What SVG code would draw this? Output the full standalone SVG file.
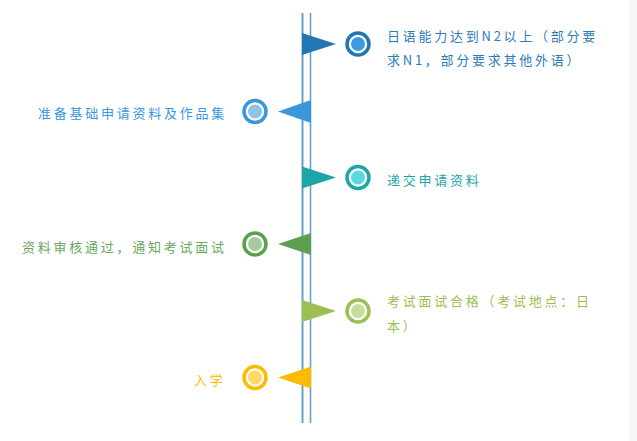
<svg xmlns="http://www.w3.org/2000/svg" width="637" height="441" viewBox="0 0 637 441">
<style>
.t{font-family:"Noto Sans CJK SC","Noto Sans",sans-serif;font-size:13px;letter-spacing:2.75px}
.ring{stroke-width:3.5;fill:none}
.axis{stroke:#6a9dc9;fill:none}
</style>
<rect width="637" height="441" fill="#ffffff"/>
<rect x="629" y="0" width="8" height="441" fill="#f6f8fa"/>
<g id="connectors">
<line class="axis" x1="302.5" y1="13" x2="302.5" y2="423" stroke-width="2"/>
<line class="axis" x1="310.5" y1="13" x2="310.5" y2="423" stroke-width="1.6"/>
</g>
<g id="step1">
<polygon points="302,33 336,44 302,55" fill="#2176b5"/>
<circle cx="358" cy="44" r="11" class="ring" stroke="#2176b5"/>
<circle cx="358" cy="44" r="7" fill="#3a9be0"/>
<text class="t" fill="#2e7bb8" x="387" y="41">日语能力达到N2以上（部分要</text>
<text class="t" fill="#2e7bb8" x="387" y="65">求N1，部分要求其他外语）</text>
</g>
<g id="step2">
<polygon points="311,100 278,111.5 311,123" fill="#3a97dc"/>
<circle cx="255" cy="111.5" r="11" class="ring" stroke="#3a97dc"/>
<circle cx="255" cy="111.5" r="7" fill="#8ec4ea"/>
<text class="t" fill="#3a97dc" x="38" y="118">准备基础申请资料及作品集</text>
</g>
<g id="step3">
<polygon points="302,166.5 336,177.5 302,188.5" fill="#1fa5a8"/>
<circle cx="358" cy="177.5" r="11" class="ring" stroke="#1fa5a8"/>
<circle cx="358" cy="177.5" r="7" fill="#5ad8e0"/>
<text class="t" fill="#1fa5a8" x="387" y="185">递交申请资料</text>
</g>
<g id="step4">
<polygon points="311,233 278,244 311,255" fill="#5c9f50"/>
<circle cx="255" cy="244" r="11" class="ring" stroke="#5c9f50"/>
<circle cx="255" cy="244" r="7" fill="#a4cc9b"/>
<text class="t" fill="#6aa860" x="22" y="252">资料审核通过，通知考试面试</text>
</g>
<g id="step5">
<polygon points="302,300 336,311 302,322" fill="#9bbf52"/>
<circle cx="358" cy="311" r="11" class="ring" stroke="#9bbf52"/>
<circle cx="358" cy="311" r="7" fill="#c7dd9c"/>
<text class="t" fill="#9bbf52" x="387" y="306">考试面试合格（考试地点：日</text>
<text class="t" fill="#9bbf52" x="387" y="331">本）</text>
</g>
<g id="step6">
<polygon points="311,366.5 278,377.5 311,388.5" fill="#fbbb00"/>
<circle cx="255" cy="377.5" r="11" class="ring" stroke="#fbbb00"/>
<circle cx="255" cy="377.5" r="7" fill="#ffd966"/>
<text class="t" fill="#fbbb00" x="194" y="385">入学</text>
</g>
</svg>
